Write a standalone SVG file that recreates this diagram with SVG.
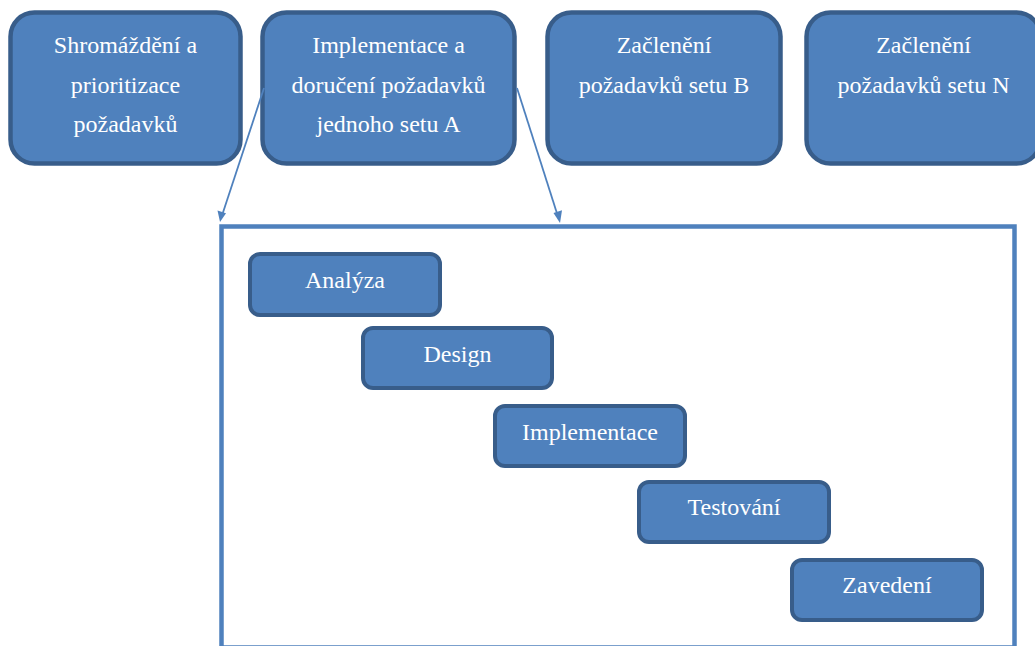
<svg xmlns="http://www.w3.org/2000/svg" width="1035" height="646" viewBox="0 0 1035 646">
  <defs>
    <style>
      .box { fill: #4F81BD; stroke: #385D8A; stroke-width: 4.5; }
      .step { fill: #4F81BD; stroke: #385D8A; stroke-width: 4; }
      text { font-family: "Liberation Serif", "DejaVu Serif", serif; font-size: 24px; fill: #FFFFFF; text-anchor: middle; }
      .frame { fill: none; stroke: #4F81BD; stroke-width: 4.5; }
      .conn { stroke: #4F81BD; stroke-width: 1.8; fill: none; }
      .head { fill: #4F81BD; }
    </style>
  </defs>
  <rect width="1035" height="646" fill="#FFFFFF"/>

  <!-- top row of phases -->
  <g id="node-shromazdeni">
    <rect class="box" x="10.5" y="12.5" width="230" height="151" rx="24"/>
    <text x="125.5" y="53">Shromáždění a</text>
    <text x="125.5" y="93">prioritizace</text>
    <text x="125.5" y="132">požadavků</text>
  </g>
  <g id="node-set-a">
    <rect class="box" x="262.5" y="12.5" width="252" height="151" rx="24"/>
    <text x="388.5" y="53">Implementace a</text>
    <text x="388.5" y="93">doručení požadavků</text>
    <text x="388.5" y="132">jednoho setu A</text>
  </g>
  <g id="node-set-b">
    <rect class="box" x="547.5" y="12.5" width="233" height="151" rx="24"/>
    <text x="664" y="53">Začlenění</text>
    <text x="664" y="93">požadavků setu B</text>
  </g>
  <g id="node-set-n">
    <rect class="box" x="806.5" y="12.5" width="234" height="151" rx="24"/>
    <text x="923.5" y="53">Začlenění</text>
    <text x="923.5" y="93">požadavků setu N</text>
  </g>

  <!-- detail frame for set A -->
  <g id="node-detail-frame">
    <rect class="frame" x="221.5" y="226.5" width="793" height="421"/>
  </g>

  <g id="node-analyza">
    <rect class="step" x="250" y="254" width="190" height="61" rx="10"/>
    <text x="345" y="288">Analýza</text>
  </g>
  <g id="node-design">
    <rect class="step" x="363" y="328" width="189" height="60" rx="10"/>
    <text x="457.5" y="362">Design</text>
  </g>
  <g id="node-implementace">
    <rect class="step" x="495" y="406" width="190" height="60" rx="10"/>
    <text x="590" y="440">Implementace</text>
  </g>
  <g id="node-testovani">
    <rect class="step" x="639" y="482" width="190" height="60" rx="10"/>
    <text x="734" y="515">Testování</text>
  </g>
  <g id="node-zavedeni">
    <rect class="step" x="792" y="560" width="190" height="60" rx="10"/>
    <text x="887" y="593">Zavedení</text>
  </g>

  <!-- expansion connectors: shafts plus filled heads -->
  <g id="connectors">
    <line class="conn" x1="264" y1="88" x2="222.5" y2="214"/>
    <polygon class="head" points="220,222 217.5,210.5 226,213.3"/>
    <line class="conn" x1="517" y1="88" x2="557.5" y2="215"/>
    <polygon class="head" points="560,223 553.5,213 562,210.3"/>
  </g>
</svg>
